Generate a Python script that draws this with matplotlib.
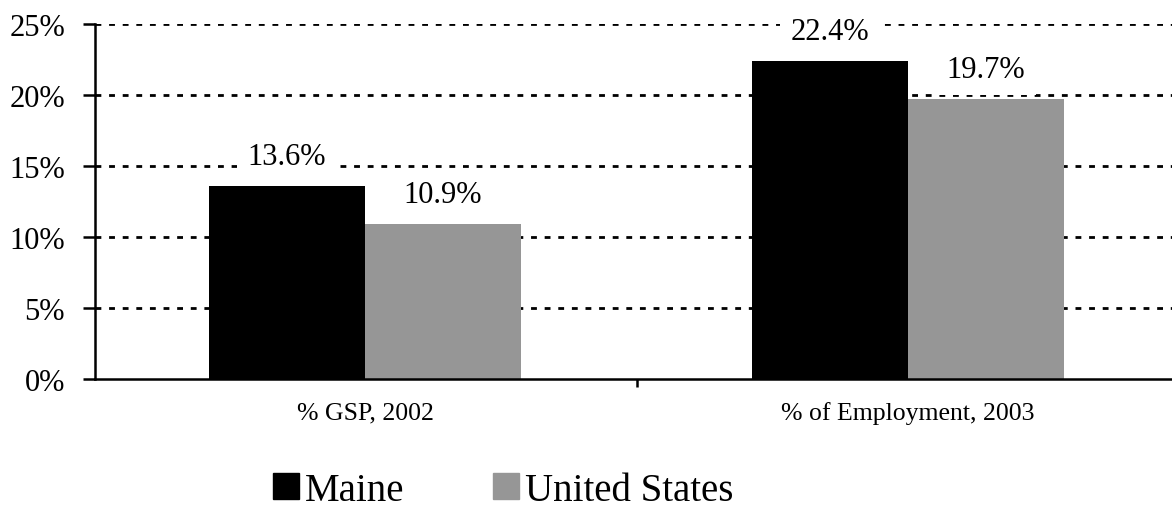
import matplotlib
matplotlib.use('Agg')
import matplotlib.pyplot as plt
import numpy as np
from matplotlib.lines import Line2D

plt.rcParams['font.family'] = ['Liberation Serif', 'DejaVu Serif']

# 数据
categories = ['% GSP, 2002', '% of Employment, 2003']
series_names = ['Maine', 'United States']
maine = [13.6, 22.4]
us = [10.9, 19.7]
colors = ['#000000', '#969696']
yticks = [0, 5, 10, 15, 20, 25]

fig = plt.figure(figsize=(11.72, 5.10), dpi=100)
ax = fig.add_axes([0.0811, 0.2549, 0.9189, 0.6961])

x = np.arange(len(categories))
w = 0.287
b1 = ax.bar(x - w / 2, maine, w, color=colors[0], zorder=2)
b2 = ax.bar(x + w / 2, us, w, color=colors[1], zorder=2)

# 虚线网格
for yv in yticks[1:]:
    ax.axhline(yv, color='black', lw=2.0, linestyle=(0, (2.1, 2.8)), zorder=1)

# 数值标签
for bars, vals in [(b1, maine), (b2, us)]:
    for rect, v in zip(bars, vals):
        ax.annotate('%.1f%%' % v, (rect.get_x() + rect.get_width() / 2, v),
                    xytext=(0, 11), textcoords='offset points',
                    ha='center', va='bottom', fontsize=22, zorder=4,
                    bbox=dict(boxstyle='square,pad=0.35', fc='white', ec='none'))

ax.set_xlim(-0.497, 1.486)
ax.set_ylim(0, 25)
ax.set_yticks(yticks)
ax.set_yticklabels(['%d%%' % t for t in yticks], fontsize=22)
ax.set_xticks(x)
ax.set_xticklabels(categories, fontsize=18.5)
ax.set_xticks([0.5], minor=True)
ax.tick_params(axis='x', which='major', length=0, pad=16)
ax.tick_params(axis='x', which='minor', length=6, width=1.8, direction='out')
ax.tick_params(axis='y', length=8.6, width=1.8, direction='out', pad=13)

for s in ['top', 'right']:
    ax.spines[s].set_visible(False)
for s in ['left', 'bottom']:
    ax.spines[s].set_linewidth(1.8)

# 图例
handles = [Line2D([], [], marker='s', linestyle='none', markersize=19,
                  markerfacecolor=c, markeredgecolor=c) for c in colors]
fig.legend(handles, series_names, loc='center', bbox_to_anchor=(0.4266, 0.037),
           ncol=2, frameon=False, fontsize=28, handletextpad=0.0,
           columnspacing=2.1, handlelength=1.0)

fig.savefig('out.png', dpi=100)
